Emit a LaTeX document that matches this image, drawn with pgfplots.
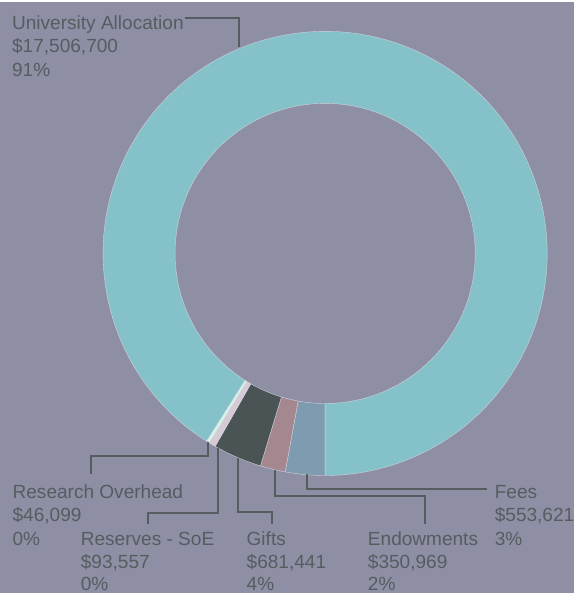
\documentclass[border=0pt]{standalone}
\usepackage{fontspec}
\setmainfont{Liberation Sans}
\usepackage{pgfplots}
\usepackage{pgfplotstable}
\pgfplotsset{compat=1.18}
\definecolor{bg}{HTML}{8E8FA5}
\definecolor{ua}{HTML}{84C1C8}
\definecolor{fees}{HTML}{7E9BAF}
\definecolor{endow}{HTML}{A5878F}
\definecolor{gifts}{HTML}{4B5455}
\definecolor{reserves}{HTML}{D8C9D6}
\definecolor{ro}{HTML}{D4F5E8}
\definecolor{txt}{HTML}{565C60}
\definecolor{sep}{HTML}{D0D3DC}
\colorlet{slice0}{fees}
\colorlet{slice1}{endow}
\colorlet{slice2}{gifts}
\colorlet{slice3}{reserves}
\colorlet{slice4}{ro}
\colorlet{slice5}{ua}

\pgfplotstableread{
name value
Fees 553621
Endowments 350969
Gifts 681441
Reserves 93557
Research 46099
University 17506700
}\slices

\gdef\total{0}
\foreach \i in {0,...,5}{%
  \pgfplotstablegetelem{\i}{value}\of\slices
  \xdef\total{\fpeval{\total+\pgfplotsretval}}%
}
\gdef\cum{0}
\foreach \i in {0,...,5}{%
  \pgfplotstablegetelem{\i}{value}\of\slices
  \expandafter\xdef\csname sa\i\endcsname{\fpeval{270-360*\cum/\total}}%
  \xdef\cum{\fpeval{\cum+\pgfplotsretval}}%
  \expandafter\xdef\csname eb\i\endcsname{\fpeval{270-360*\cum/\total}}%
}

\begin{document}
\begin{tikzpicture}
\begin{axis}[
  x=1bp, y=1bp,
  xmin=0, xmax=576, ymin=0, ymax=593,
  hide axis, clip=false,
  scale only axis,
]
\fill[bg] (axis cs:0,0) rectangle (axis cs:576,593);
\pgfplotsinvokeforeach{0,...,5}{%
  \fill[slice#1, draw=sep, line width=0.4bp, line join=round]
    (axis cs:326.5,341) ++(\csname sa#1\endcsname:223bp)
    arc[start angle=\csname sa#1\endcsname, end angle=\csname eb#1\endcsname, radius=223bp]
    -- ++(\csname eb#1\endcsname:-72.3bp)
    arc[start angle=\csname eb#1\endcsname, end angle=\csname sa#1\endcsname, radius=150.7bp]
    -- cycle;
}
% leader lines
\addplot[txt, line width=2bp, no marks] coordinates {(186,577) (240,577) (240,548)};
\addplot[txt, line width=2bp, no marks] coordinates {(208.5,152) (208.5,137.7) (91.7,137.7) (91.7,119.7)};
\addplot[txt, line width=2bp, no marks] coordinates {(219,146) (219,80.7) (149,80.7) (149,69)};
\addplot[txt, line width=2bp, no marks] coordinates {(238.7,136) (238.7,81.3) (273.3,81.3) (273.3,69)};
\addplot[txt, line width=2bp, no marks] coordinates {(276,124) (276,97) (427,97) (427,69)};
\addplot[txt, line width=2bp, no marks] coordinates {(308.3,119) (308.3,104.7) (489,104.7)};
% labels
\begin{scope}[every node/.style={anchor=base west, inner sep=0pt, text=txt, font=\fontsize{19.2}{22}\selectfont}]
\node at (axis cs:12,565.7) {University Allocation};
\node at (axis cs:12,542.4) {\$17,506,700};
\node at (axis cs:12,519.1) {91\%};
\node at (axis cs:12.5,94.7) {Research Overhead};
\node at (axis cs:12.5,71.4) {\$46,099};
\node at (axis cs:12.5,48.1) {0\%};
\node at (axis cs:81,48.1) {Reserves - SoE};
\node at (axis cs:81,24.8) {\$93,557};
\node at (axis cs:81,3) {0\%};
\node at (axis cs:247.5,48.1) {Gifts};
\node at (axis cs:247.5,24.8) {\$681,441};
\node at (axis cs:247.5,3) {4\%};
\node at (axis cs:369.3,48.1) {Endowments};
\node at (axis cs:369.3,24.8) {\$350,969};
\node at (axis cs:369.3,3) {2\%};
\node at (axis cs:496.7,94.7) {Fees};
\node at (axis cs:496.7,71.4) {\$553,621};
\node at (axis cs:496.7,48.1) {3\%};
\end{scope}
\end{axis}
\end{tikzpicture}
\end{document}
